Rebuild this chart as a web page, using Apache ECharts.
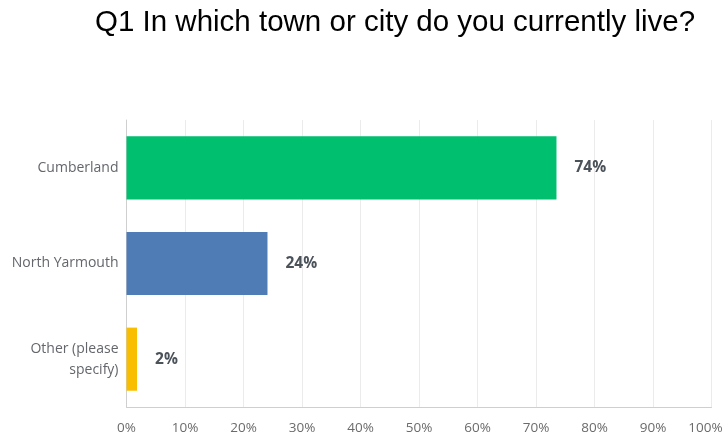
<!DOCTYPE html>
<html>
<head>
<meta charset="utf-8">
<script src="https://cdn.jsdelivr.net/npm/echarts@6/dist/echarts.min.js"></script>
<style>
  html, body { margin: 0; padding: 0; background: #ffffff; }
  #chart { width: 727px; height: 436px; }
</style>
</head>
<body>
<div id="chart"></div>
<script>
// Survey answers: share of respondents per town (percent)
const titleText = 'Q1 In which town or city do you currently live?';
const categories = ['Cumberland', 'North Yarmouth', 'Other (please\nspecify)'];
const shares = [73.5, 24.1, 1.8];
const barColors = ['#00bf6f', '#507cb6', '#f9be00'];
const tickValues = [0, 10, 20, 30, 40, 50, 60, 70, 80, 90, 100];

const chart = echarts.init(document.getElementById('chart'), null, { renderer: 'canvas' });

const tickFont = {
  color: '#6b6b6b',
  fontFamily: 'Open Sans, Noto Sans, sans-serif',
  fontSize: 13.5
};

chart.setOption({
  animation: false,
  backgroundColor: '#ffffff',
  title: {
    text: titleText,
    left: 90,
    top: 3,
    textStyle: {
      fontFamily: 'Liberation Sans, Arial, sans-serif',
      fontSize: 29.5,
      fontWeight: 'normal',
      color: '#000000'
    }
  },
  grid: {
    left: 126.5,
    right: 15.5,
    top: 120,
    bottom: 29,
    containLabel: false,
    outerBoundsMode: 'none'
  },
  xAxis: {
    type: 'value',
    min: 0,
    max: 100,
    interval: 10,
    axisLine: { show: true, lineStyle: { color: '#cfcfcf', width: 1 } },
    axisTick: { show: false },
    splitLine: { show: true, lineStyle: { color: '#ebebeb', width: 1 } },
    axisLabel: Object.assign({
      margin: 14,
      // keep the last tick label inside the canvas edge
      formatter: v => v === tickValues[tickValues.length - 1]
        ? '{last|' + v + '%}'
        : (tickValues.includes(v) ? v + '%' : ''),
      rich: {
        last: Object.assign({ padding: [0, 12, 0, 0] }, tickFont)
      }
    }, tickFont)
  },
  yAxis: {
    type: 'category',
    inverse: true,
    data: categories,
    axisLine: { show: true, lineStyle: { color: '#cfcfcf', width: 1 } },
    axisTick: { show: false },
    splitLine: { show: false },
    axisLabel: {
      margin: 8,
      color: '#63666b',
      fontFamily: 'Open Sans, Noto Sans, sans-serif',
      fontSize: 14,
      lineHeight: 21,
      align: 'right',
      padding: [3, 0, 0, 0]
    }
  },
  series: [{
    type: 'bar',
    data: shares.map((v, i) => ({ value: v, itemStyle: { color: barColors[i] } })),
    barWidth: '66%',
    label: {
      show: true,
      position: 'right',
      distance: 18,
      color: '#4b525a',
      fontFamily: 'Open Sans, Noto Sans, sans-serif',
      fontWeight: 'bold',
      fontSize: 15.5,
      formatter: p => Math.round(p.value) + '%'
    }
  }]
});
</script>
</body>
</html>
